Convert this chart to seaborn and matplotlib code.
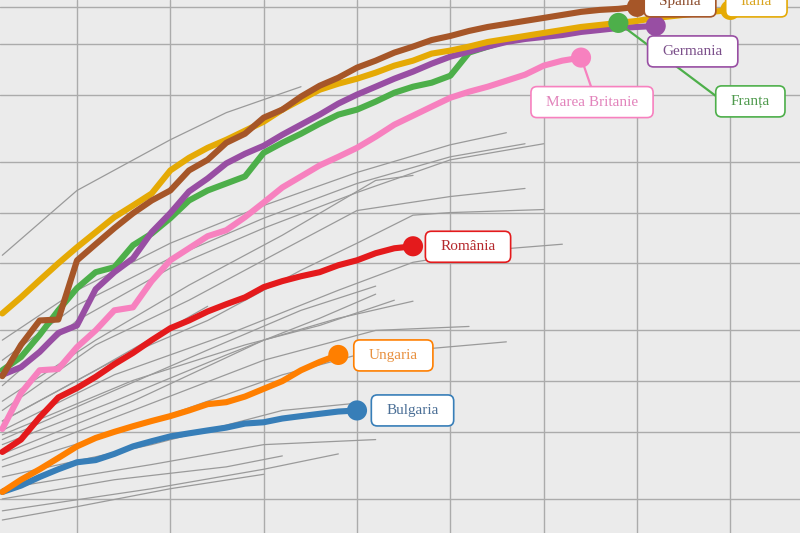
import matplotlib
matplotlib.use("Agg")
import matplotlib.pyplot as plt
import numpy as np
import pandas as pd
import seaborn as sns
from matplotlib.patches import FancyBboxPatch
from matplotlib.lines import Line2D
from matplotlib.transforms import IdentityTransform
from matplotlib.ticker import NullLocator

# ---------------- data (day 1, 2, 3 ... ; log-scale values) ----------------
spania = [107, 164, 229, 232, 520, 649, 808, 990, 1179, 1352, 1778, 2055, 2594, 2936, 3656,
          4080, 4874, 5655, 6310, 7240, 7965, 8890, 9650, 10560, 11160, 11950, 12620, 13150,
          13710, 14280, 14880, 15510, 15930, 16160, 16610]
italia = [252, 314, 397, 500, 622, 764, 939, 1101, 1297, 1778, 2112, 2422, 2704, 3058, 3460,
          4080, 4678, 5355, 5815, 6225, 6760, 7440, 7965, 8770, 9140, 9650, 10280, 10710,
          11160, 11630, 12110, 12620, 12970, 13340, 13710, 14280, 14680, 15090, 15510, 15930]
germania = [109, 121, 149, 193, 214, 351, 443, 535, 764, 993, 1334, 1593, 1958, 2232, 2490,
            2896, 3322, 3810, 4430, 5010, 5580, 6225, 6855, 7645, 8415, 9015, 9650, 10280,
            10710, 11010, 11310, 11790, 12110, 12450, 12620, 12800]
franta = [116, 139, 188, 263, 356, 443, 474, 640, 750, 926, 1179, 1352, 1488, 1638, 2262,
          2594, 2936, 3366, 3810, 4080, 4552, 5140, 5580, 5895, 6485, 8890, 9650, 10420,
          10860, 11310, 11790, 12280, 12620, 13340]
marea_britanie = [52, 85, 116, 118, 159, 200, 263, 274, 392, 521, 614, 724, 786, 939, 1147,
                  1409, 1638, 1905, 2142, 2422, 2818, 3322, 3756, 4250, 4800, 5210, 5580,
                  6055, 6575, 7440, 7965, 8305]
romania = [38, 45, 61, 80, 91, 106, 126, 147, 175, 206, 229, 259, 286, 314, 361, 392, 419,
           443, 487, 521, 574, 614, 631]
ungaria = [22, 26, 30, 35, 41, 46, 50, 54, 58, 62, 67, 73, 75, 81, 90, 100, 116, 130, 143]
bulgaria = [22, 24, 27, 30, 33, 34, 37, 41, 44, 47, 49, 51, 53, 56, 57, 60, 62, 64, 66, 67]

tari = ["Spania", "Italia", "Germania", "Franța", "Marea Britanie", "România", "Ungaria", "Bulgaria"]
serii = [spania, italia, germania, franta, marea_britanie, romania, ungaria, bulgaria]

# other countries (grey): (days, values)
gri_01 = ([1, 5, 10, 13, 15, 17], [558, 1352, 2704, 3916, 4678, 5580])
gri_02 = ([1, 5, 10, 15, 20, 25, 28], [175, 346, 658, 1101, 1730, 2524, 2976])
gri_03 = ([1, 5, 10, 15, 20, 25, 29], [133, 282, 536, 926, 1488, 2142, 2560])
gri_04 = ([1, 5, 10, 15, 20, 25, 30], [94, 229, 468, 808, 1315, 2055, 2560])
gri_05 = ([1, 6, 11, 16, 21, 23], [76, 175, 371, 734, 1551, 1661])
gri_06 = ([1, 6, 11, 16, 20, 25, 29], [67, 164, 302, 598, 1028, 1245, 1390])
gri_07 = ([1, 7, 12, 17, 20, 23, 25, 30], [58, 133, 229, 455, 658, 965, 1000, 1042])
gri_08 = ([1, 7, 13, 19, 23, 27, 31], [51, 109, 188, 346, 507, 598, 649])
gri_09 = ([1, 7, 12, 17, 21], [45, 88, 153, 263, 366])
gri_10 = ([1, 7, 13, 18, 21], [42, 76, 143, 236, 328])
gri_11 = ([1, 8, 15, 19, 23], [37, 76, 175, 236, 298])
gri_12 = ([1, 8, 15, 21, 26], [34, 67, 133, 200, 211])
gri_13 = ([1, 9, 16, 20, 28], [31, 58, 109, 143, 171])
gri_14 = ([1, 9, 16, 20], [27, 42, 67, 74])
gri_15 = ([1, 9, 15, 21], [23, 32, 42, 45])
gri_16 = ([1, 7, 13, 16], [20, 26, 31, 36])
gri_17 = ([1, 9, 15, 19], [17, 23, 30, 37])
gri_18 = ([1, 5, 10, 15], [15, 18, 23, 28])
gri_19 = ([1, 8, 14, 18, 22], [48, 101, 164, 214, 302])
gri_20 = ([1, 6, 12], [58, 116, 278])
gri = [gri_01, gri_02, gri_03, gri_04, gri_05, gri_06, gri_07, gri_08, gri_09, gri_10,
       gri_11, gri_12, gri_13, gri_14, gri_15, gri_16, gri_17, gri_18, gri_19, gri_20]

# grid positions
grid_x = [5, 10, 15, 20, 25, 30, 35, 40]
grid_y = [20, 50, 100, 200, 500, 1000, 2000, 5000, 10000, 16600]

# ---------------- style ----------------
BG = "#ebebeb"
culori = {"Spania": "#a65628", "Italia": "#e5aa05", "Germania": "#984ea3", "Franța": "#4daf4a",
          "Marea Britanie": "#f781bf", "România": "#e41a1c", "Ungaria": "#ff7f00", "Bulgaria": "#377eb8"}
culori_text = {"Spania": "#8a4a2a", "Italia": "#d9a41e", "Germania": "#7b4f8a", "Franța": "#4f9a4d",
               "Marea Britanie": "#e283bb", "România": "#b5282c", "Ungaria": "#e8903e", "Bulgaria": "#4b6f96"}
# label centre offsets from end-point (pixels, y up)
offs = {"Spania": (43, 5.5), "Italia": (26, 8.5), "Germania": (37, -25.5), "Franța": (132, -78.5),
        "Marea Britanie": (11, -44.5), "România": (55, -0.5), "Ungaria": (55, -0.5), "Bulgaria": (55.5, 0)}

sns.set_theme(style="whitegrid", rc={"axes.facecolor": BG, "figure.facecolor": BG,
                                     "grid.color": "#ababab", "grid.linewidth": 1.0})

fig = plt.figure(figsize=(8, 5.33), dpi=100, facecolor=BG)
ax = fig.add_axes([0, 0, 1, 1])
ax.set_facecolor(BG)

# grey lines
rows = []
for i, (zz, vv) in enumerate(gri):
    for z, v in zip(zz, vv):
        rows.append({"tara": f"g{i}", "zi": z, "valoare": v})
df_gri = pd.DataFrame(rows)
sns.lineplot(data=df_gri, x="zi", y="valoare", units="tara", estimator=None,
             color="#9a9a9a", lw=0.9, ax=ax, zorder=1, legend=False)

# highlighted lines
rows = []
for t, s in zip(tari, serii):
    for i, v in enumerate(s):
        rows.append({"tara": t, "zi": i + 1, "valoare": v})
df_hi = pd.DataFrame(rows)
sns.lineplot(data=df_hi, x="zi", y="valoare", hue="tara", hue_order=tari[::-1], palette=culori,
             estimator=None, lw=4.4, ax=ax, zorder=3, legend=False,
             solid_capstyle="round", solid_joinstyle="round")

# end points
df_end = df_hi.groupby("tara", sort=False).tail(1)
sns.scatterplot(data=df_end, x="zi", y="valoare", hue="tara", palette=culori, s=210,
                linewidth=0, ax=ax, zorder=6, legend=False)

ax.set_yscale("log")
ax.set_autoscale_on(False)
ax.set_xlim(0.876, 43.73)
ax.set_ylim(12.56, 18240)
ax.set_xticks(grid_x)
ax.set_yticks(grid_y)
ax.yaxis.set_minor_locator(NullLocator())
ax.xaxis.set_minor_locator(NullLocator())
ax.tick_params(length=0, labelbottom=False, labelleft=False)
ax.set_xlabel("")
ax.set_ylabel("")
ax.grid(True, color="#ababab", lw=1.0)
for sp in ax.spines.values():
    sp.set_visible(False)

# labels
renderer = fig.canvas.get_renderer()
ident = IdentityTransform()
fam = ["Liberation Serif", "DejaVu Serif"]
for t in tari:
    row = df_end[df_end["tara"] == t].iloc[0]
    px, py = ax.transData.transform((row["zi"], row["valoare"]))
    dx, dy = offs[t]
    cx, cy = px + dx, py + dy
    txt = ax.text(cx, cy, t, transform=ident, ha="center", va="center", fontsize=11,
                  family=fam, color=culori_text[t], zorder=8)
    bb = txt.get_window_extent(renderer)
    w = bb.width + 30
    h = 31
    box = FancyBboxPatch((cx - w / 2, cy - h / 2), w, h,
                         boxstyle="round,pad=0,rounding_size=6", transform=ident,
                         fc="white", ec=culori[t], lw=1.2, alpha=1, zorder=7)
    box.set_edgecolor(matplotlib.colors.to_rgba(culori[t], 0.85))
    ax.add_artist(box)
    if t == "Franța":
        ln = Line2D([px, cx - w / 2], [py, cy + 5.5], transform=ident, color=culori[t], lw=1.6, zorder=4)
        ax.add_artist(ln)
    if t == "Marea Britanie":
        ln = Line2D([px, cx - 1], [py, cy + h / 2], transform=ident, color=culori[t], lw=1.6, zorder=4)
        ax.add_artist(ln)

fig.savefig("out.png", dpi=100, facecolor=BG)
